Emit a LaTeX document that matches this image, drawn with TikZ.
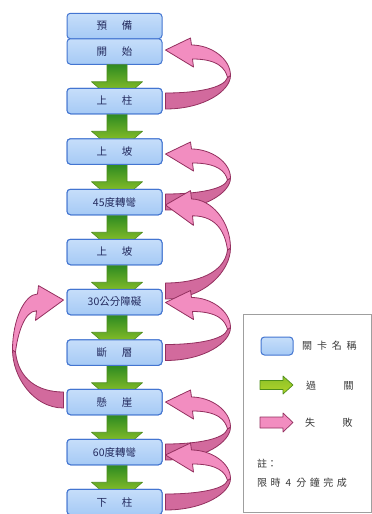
\documentclass[tikz,border=0pt]{standalone}
\usepackage{fontspec}
\newfontfamily\cjk{Noto Sans CJK TC}
\usetikzlibrary{calc}
\definecolor{boxfill}{HTML}{A6CAF5}
\definecolor{boxtop}{HTML}{C6DEFA}
\definecolor{boxdraw}{HTML}{4375D1}
\definecolor{boxtext}{HTML}{232A5E}
\definecolor{gdark}{HTML}{2E8B22}
\definecolor{glime}{HTML}{B2D62A}
\definecolor{gline}{HTML}{4F8E1A}
\definecolor{plight}{HTML}{F28DC0}
\definecolor{pdark}{HTML}{D26A9D}
\definecolor{pline}{HTML}{93305F}
\definecolor{legtxt}{HTML}{3A3A3A}
\newcommand{\twochar}[2]{#1\hspace{15pt}#2}
\newcommand{\greenarr}[1]{%
  \begin{scope}[shift={(#1.south)}]
    \shadedraw[top color=gdark, middle color=glime, bottom color=glime, draw=gline, line width=0.6pt, line join=round]
      (-7.5,0) -- (12.5,0) -- (12.5,17) -- (28,17) -- (2.5,39) -- (-23,17) -- (-7.5,17) -- cycle;
  \end{scope}}
\newcommand{\pinkarr}[5]{%
  \begin{scope}[shift={#1}, xscale=#4, yscale=-1, line join=round]
    \pgfmathsetmacro\pH{#2}\pgfmathsetmacro\pW{#3}\pgfmathsetmacro\pY{#2/2}\pgfmathsetmacro\pS{#5}
    \filldraw[fill=pdark, draw=pline, line width=0.8pt]
      (0,-8) .. controls ({0.6*\pW},-8) and (\pW,{\pY-0.45*(\pY+8)}) .. (\pW,\pY)
      -- ({\pW-3},{\pY-2}) .. controls ({\pW-6},{8+0.3*(\pY-8)}) and ({0.5*\pW},8) .. (0,8) -- cycle;
    \filldraw[fill=plight, draw=pline, line width=0.8pt]
      (\pW,\pY) .. controls (\pW,{\pY+0.55*(\pH+5*\pS-\pY)}) and ({26+0.5*(\pW-26)},{\pH+5*\pS}) .. (26,{\pH+5*\pS})
      -- (25,{\pH+12*\pS}) -- (0,\pH) -- (28,{\pH-17*\pS}) -- (27,{\pH-9*\pS})
      .. controls ({\pW-12},{\pH-9*\pS}) and ({\pW-5},{\pY+0.4*(\pH-9*\pS-\pY)}) .. ({\pW-3},{\pY-2}) -- cycle;
  \end{scope}}
\tikzset{
  stage/.style={draw=boxdraw, line width=1pt, rounded corners=3.5pt, top color=boxtop, bottom color=boxfill,
    minimum width=95pt, minimum height=25.5pt, inner sep=0pt, font=\cjk\fontsize{10.5}{12}\selectfont, text=boxtext},
  legtext/.style={anchor=west, inner sep=0pt, font=\cjk\fontsize{10}{12}\selectfont, text=legtxt},
  legicon/.style={draw=boxdraw, line width=1pt, rounded corners=3.5pt, top color=boxtop, bottom color=boxfill,
    minimum width=32pt, minimum height=18pt, inner sep=0pt}
}
\begin{document}
\begin{tikzpicture}[x=1pt, y=-1pt]
\useasboundingbox (0,0) rectangle (372,514);
\fill[white] (0,0) rectangle (372,514);
% legend frame
\draw[draw=gray!75, line width=0.8pt] (243,314) rectangle (371.5,512.5);
% stage nodes (placed first so arrows can refer to them)
\path
  (114.5,26)    node[stage] (b1) {\twochar{預}{備}}
  (114.5,51.5)  node[stage] (b2) {\twochar{開}{始}}
  (114.5,101)   node[stage] (b3) {\twochar{上}{柱}}
  (114.5,151.5) node[stage] (b4) {\twochar{上}{坡}}
  (114.5,202)   node[stage] (b5) {45度轉彎}
  (114.5,252)   node[stage] (b6) {\twochar{上}{坡}}
  (114.5,302)   node[stage] (b7) {30公分障礙}
  (114.5,352.5) node[stage] (b8) {\twochar{斷}{層}}
  (114.5,402)   node[stage] (b9) {\twochar{懸}{崖}}
  (114.5,452)   node[stage] (b10) {60度轉彎}
  (114.5,502)   node[stage] (b11) {\twochar{下}{柱}};
% green pass arrows
\greenarr{b2}\greenarr{b3}\greenarr{b4}\greenarr{b5}\greenarr{b6}
\greenarr{b7}\greenarr{b8}\greenarr{b9}\greenarr{b10}
% redraw boxes on top of arrow heads
\path
  (114.5,101)   node[stage] {\twochar{上}{柱}}
  (114.5,151.5) node[stage] {\twochar{上}{坡}}
  (114.5,202)   node[stage] {45度轉彎}
  (114.5,252)   node[stage] {\twochar{上}{坡}}
  (114.5,302)   node[stage] {30公分障礙}
  (114.5,352.5) node[stage] {\twochar{斷}{層}}
  (114.5,402)   node[stage] {\twochar{懸}{崖}}
  (114.5,452)   node[stage] {60度轉彎}
  (114.5,502)   node[stage] {\twochar{下}{柱}};
% pink fail arrows
\pinkarr{($(b3.east)+(3,0)$)}{51}{65}{1}{1}
\pinkarr{($(b5.east)+(3,0)$)}{48}{65}{1}{1}
\pinkarr{($(b7.east)+(3,-11)$)}{86}{65}{1}{1.2}
\pinkarr{($(b8.east)+(3,0)$)}{50}{65}{1}{1}
\pinkarr{($(b9.west)+(-3,-2)$)}{100}{51}{-1}{1.2}
\pinkarr{($(b10.east)+(3,0)$)}{50}{65}{1}{1}
\pinkarr{($(b11.east)+(3,0)$)}{47}{65}{1}{1}
% legend
\node[legicon] (lgbox) at (277,346) {};
\shadedraw[top color=glime!70!gdark, bottom color=glime, draw=gline, line width=0.7pt, line join=round]
  (260,380.5) -- (283,380.5) -- (283,376) -- (293,385) -- (283,394) -- (283,389.5) -- (260,389.5) -- cycle;
\filldraw[fill=plight, draw=pline, line width=0.7pt, line join=round]
  (260,417) -- (283,417) -- (283,413) -- (293,422.5) -- (283,432) -- (283,428) -- (260,428) -- cycle;
\node[legtext] (l1) at (302,346) {關\hspace{4.8pt}卡\hspace{4.8pt}名\hspace{4.8pt}稱};
\node[legtext] (l2) at (306,385.5) {過\hspace{27.5pt}關};
\node[legtext] (l3) at (305,422.5) {失\hspace{27.5pt}敗};
\node[legtext] (l4) at (257,464) {註：};
\node[legtext] (l5) at (257,483) {限\hspace{3.5pt}時\hspace{5pt}4\hspace{5pt}分\hspace{3.5pt}鐘\hspace{3.5pt}完\hspace{3.5pt}成};
\end{tikzpicture}
\end{document}
